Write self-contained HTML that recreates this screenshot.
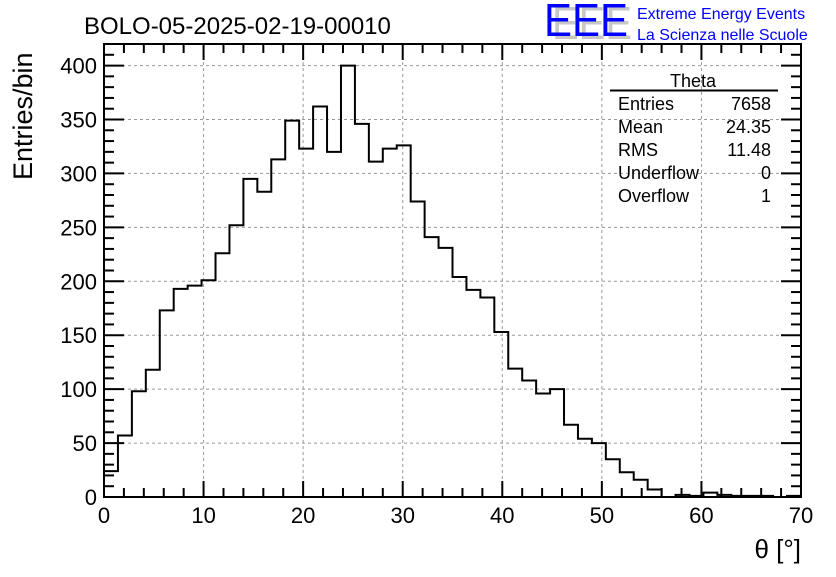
<!DOCTYPE html>
<html><head><meta charset="utf-8"><style>
body{margin:0;background:#fff;}
svg text{font-family:"Liberation Sans",sans-serif;}
</style></head><body>
<svg id="chart" width="836" height="572" xmlns="http://www.w3.org/2000/svg">
<rect width="836" height="572" fill="#fff"/>
<g id="grid"></g>
<g id="hist"></g>
<g id="axes"></g>
<text x="84" y="34" font-size="24">BOLO-05-2025-02-19-00010</text>
<text transform="translate(32,180) rotate(-90)" font-size="27">Entries/bin</text>
<text x="801" y="558" font-size="26" text-anchor="end">θ [°]</text>
<g>
<text x="552" y="39" font-size="46" fill="#c8c8c8" textLength="80" lengthAdjust="spacingAndGlyphs">EEE</text>
<text x="544" y="36" font-size="46" fill="#0000ff" textLength="84" lengthAdjust="spacingAndGlyphs">EEE</text>
<text x="637" y="19" font-size="16" fill="#0000ff">Extreme Energy Events</text>
<text x="637" y="40" font-size="16" fill="#0000ff">La Scienza nelle Scuole</text>
</g>
<g font-size="18">
<text x="693" y="87" text-anchor="middle">Theta</text>
<line x1="610" y1="90.5" x2="778" y2="90.5" stroke="#000" stroke-width="2"/>
<text x="618" y="110">Entries</text><text x="771" y="110" text-anchor="end">7658</text>
<text x="618" y="133">Mean</text><text x="771" y="133" text-anchor="end">24.35</text>
<text x="618" y="156">RMS</text><text x="771" y="156" text-anchor="end">11.48</text>
<text x="618" y="179">Underflow</text><text x="771" y="179" text-anchor="end">0</text>
<text x="618" y="202">Overflow</text><text x="771" y="202" text-anchor="end">1</text>
</g>
</svg>
<script>
const binWidth = 1.4;
const counts = [24,57,98,118,173,193,196,201,226,252,295,283,313,349,323,362,320,400,346,311,323,326,274,241,231,204,192,185,153,119,108,96,100,67,54,50,35,23,16,7,0,2,1,4,2,1,1,1,0,1];
const xTicks = [0,10,20,30,40,50,60,70];
const yTicks = [0,50,100,150,200,250,300,350,400];
const X0=104,X1=801,Y0=497,Y1=44,XMAX=70,YMAX=420;
const NS='http://www.w3.org/2000/svg';
function xs(v){return X0+(X1-X0)*v/XMAX;}
function ys(v){return Y0-(Y0-Y1)*v/YMAX;}
function mk(tag,attrs,parent){const e=document.createElementNS(NS,tag);for(const k in attrs)e.setAttribute(k,attrs[k]);parent.appendChild(e);return e;}
const grid=document.getElementById('grid'),axes=document.getElementById('axes'),hist=document.getElementById('hist');
xTicks.forEach(t=>{
  if(t>0&&t<XMAX){const l=mk('line',{x1:xs(t),x2:xs(t),y1:Y1,y2:Y0,stroke:'#999','stroke-dasharray':'3,3'},grid);
  
  }
  const tx=mk('text',{x:xs(t),y:523,'font-size':22,'text-anchor':'middle'},axes);tx.textContent=t;
  
  
});
yTicks.forEach(t=>{
  if(t>0){const l=mk('line',{x1:X0,x2:X1,y1:ys(t),y2:ys(t),stroke:'#999','stroke-dasharray':'3,3'},grid);
  
  }
  const tx=mk('text',{x:97,y:ys(t)+8,'font-size':22,'text-anchor':'end'},axes);tx.textContent=t;
  
  
});
let d='M'+xs(0)+','+ys(0);
counts.forEach((c,i)=>{d+=' L'+xs(i*binWidth)+','+ys(c)+' L'+xs((i+1)*binWidth)+','+ys(c);});
d+=' L'+xs(counts.length*binWidth)+','+ys(0);
const p=mk('path',{d:d,fill:'none',stroke:'#000','stroke-width':2},hist);


const fr=mk('rect',{x:X0,y:Y1,width:X1-X0,height:Y0-Y1,fill:'none',stroke:'#000','stroke-width':2},axes);


for(let v=0;v<=XMAX;v+=2){const big=v%10===0;const L=big?16:9;
  mk('line',{x1:xs(v),x2:xs(v),y1:Y0,y2:Y0-L,stroke:'#000','stroke-width':2},axes);
  mk('line',{x1:xs(v),x2:xs(v),y1:Y1,y2:Y1+L,stroke:'#000','stroke-width':2},axes);}
for(let v=0;v<=YMAX;v+=10){const big=v%50===0;const L=big?20:10;
  mk('line',{x1:X0,x2:X0+L,y1:ys(v),y2:ys(v),stroke:'#000','stroke-width':2},axes);
  mk('line',{x1:X1,x2:X1-L,y1:ys(v),y2:ys(v),stroke:'#000','stroke-width':2},axes);}
</script>
</body></html>
